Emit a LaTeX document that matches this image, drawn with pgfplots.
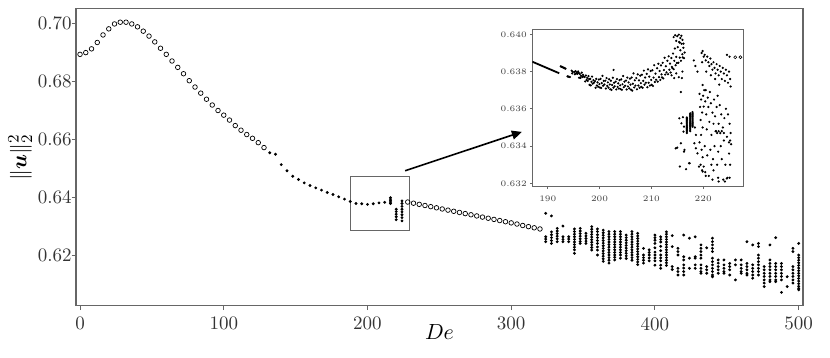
\documentclass[border=0pt]{standalone}
\usepackage{bm}
\usepackage{pgfplots}
\pgfplotsset{compat=1.18}
\usetikzlibrary{arrows.meta}
\definecolor{frame}{gray}{0.40}
\begin{document}
\begin{tikzpicture}
% ---------------- main axis ----------------
\begin{axis}[name=main,
  scale only axis, width=363.5pt, height=148.7pt,
  xmin=-2.8, xmax=503, ymin=0.6025, ymax=0.7052,
  xtick={0,100,200,300,400,500},
  ytick={0.62,0.64,0.66,0.68,0.70},
  scaled y ticks=false,
  /pgf/number format/assume math mode=true,
  yticklabel style={xshift=3.5pt, /pgf/number format/.cd, fixed, fixed zerofill, precision=2},
  axis line style={frame, line width=0.7pt},
  tick style={frame, line width=0.5pt},
  tick align=outside, tick pos=left, major tick length=2.2pt,
  ticklabel style={font=\fontsize{9.5}{10}\selectfont, text=black!80},
  xlabel={$De$}, ylabel={$\|\bm{u}\|_2^2$},
  xlabel shift=-10pt, ylabel shift=-4pt,
  label style={font=\fontsize{11}{12}\selectfont},
]
% open circles, 0 <= De <= 128
\addplot[only marks, mark=o, mark size=1.15pt, mark options={line width=0.35pt}] coordinates {
(0,0.6893)(4,0.6899)(8,0.6912)(12,0.6934)(16,0.6960)(20,0.6981)(24,0.6998)(28,0.7004)
(32,0.7004)(36,0.6998)(40,0.6988)(44,0.6973)(48,0.6956)(52,0.6936)(56,0.6914)(60,0.6893)
(64,0.6870)(68,0.6848)(72,0.6826)(76,0.6802)(80,0.6780)(84,0.6759)(88,0.6738)(92,0.6718)
(96,0.6699)(100,0.6683)(104,0.6666)(108,0.6647)(112,0.6631)(116,0.6616)(120,0.6603)
(124,0.6588)(128,0.6571)};
% open circles, 228 <= De <= 320
\addplot[only marks, mark=o, mark size=1.15pt, mark options={line width=0.35pt}] coordinates {
(228,0.6383)(232,0.6379)(236,0.6375)(240,0.6371)(244,0.6367)(248,0.6363)(252,0.6359)
(256,0.6355)(260,0.6351)(264,0.6347)(268,0.6343)(272,0.6339)(276,0.6335)(280,0.6331)
(284,0.6327)(288,0.6323)(292,0.6319)(296,0.6315)(300,0.6311)(304,0.6307)(308,0.6302)
(312,0.6298)(316,0.6294)(320,0.6290)};
% filled dots
\addplot[only marks, mark=*, mark size=0.5pt] coordinates {
(132,0.6553)(136,0.6548)(140,0.6512)(144,0.6491)(148,0.6472)(152,0.6461)(156,0.6449)
(160,0.6440)(164,0.6432)(168,0.6424)(172,0.6416)(176,0.6409)(180,0.6401)(184,0.6393)
(188,0.6385)(192,0.6378)(196,0.6377)(200,0.6375)(204,0.6377)(208,0.6380)(212,0.6382)
(216,0.6378)(216,0.6383)(216,0.6388)(216,0.6393)(216,0.6398)
(220,0.6358)(220,0.6350)(220,0.6341)(220,0.6332)(220,0.6322)
(224,0.6387)(224,0.6378)(224,0.6368)(224,0.6358)(224,0.6349)(224,0.6339)(224,0.6329)(224,0.6318)
(324,0.6344)(324,0.6263)(324,0.6255)(324,0.6246)
(328,0.6335)(328,0.6280)(328,0.6270)(328,0.6260)(328,0.6250)(328,0.6240)
(332,0.6292)(332,0.6283)(332,0.6274)(332,0.6265)(332,0.6256)(332,0.6246)
(336,0.6300)(336,0.6263)(336,0.6254)(336,0.6246)
(340,0.6263)(340,0.6255)(340,0.6246)
(344,0.6290)(344,0.6281)(344,0.6272)(344,0.6263)(344,0.6254)(344,0.6245)(344,0.6236)(344,0.6227)(344,0.6218)(344,0.6206)
(348,0.6292)(348,0.6283)(348,0.6274)(348,0.6265)(348,0.6256)(348,0.6247)(348,0.6240)
(352,0.6275)(352,0.6266)(352,0.6257)(352,0.6248)(352,0.6240)
(356,0.6298)(356,0.6289)(356,0.6280)(356,0.6271)(356,0.6262)(356,0.6253)(356,0.6244)(356,0.6235)(356,0.6226)(356,0.6217)
(360,0.6290)(360,0.6281)(360,0.6270)(360,0.6260)(360,0.6250)(360,0.6240)(360,0.6228)(360,0.6217)(360,0.6200)
(364,0.6286)(364,0.6277)(364,0.6268)(364,0.6259)(364,0.6250)(364,0.6241)(364,0.6232)(364,0.6223)(364,0.6214)(364,0.6205)(364,0.6196)(364,0.6187)(364,0.6178)
(368,0.6281)(368,0.6272)(368,0.6263)(368,0.6254)(368,0.6245)(368,0.6236)(368,0.6227)(368,0.6218)(368,0.6209)(368,0.6200)(368,0.6191)(368,0.6182)(368,0.6172)
(372,0.6281)(372,0.6272)(372,0.6263)(372,0.6254)(372,0.6245)(372,0.6236)(372,0.6227)(372,0.6218)(372,0.6209)(372,0.6200)(372,0.6192)(372,0.6183)
(376,0.6281)(376,0.6272)(376,0.6263)(376,0.6254)(376,0.6245)(376,0.6236)(376,0.6227)(376,0.6218)(376,0.6209)(376,0.6200)(376,0.6189)
(380,0.6269)(380,0.6260)(380,0.6251)(380,0.6242)(380,0.6233)(380,0.6224)(380,0.6215)(380,0.6206)(380,0.6197)(380,0.6188)
(384,0.6281)(384,0.6272)(384,0.6263)(384,0.6254)(384,0.6245)(384,0.6236)(384,0.6227)(384,0.6218)(384,0.6209)(384,0.6200)(384,0.6191)(384,0.6182)
(388,0.6275)(388,0.6266)(388,0.6257)(388,0.6248)(388,0.6239)(388,0.6230)(388,0.6221)(388,0.6212)(388,0.6203)(388,0.6194)(388,0.6185)(388,0.6176)(388,0.6167)
(392,0.6223)(392,0.6200)(392,0.6191)(392,0.6182)(392,0.6172)
(396,0.6218)(396,0.6209)(396,0.6200)(396,0.6190)(396,0.6180)
(400,0.6269)(400,0.6260)(400,0.6251)(400,0.6240)(400,0.6225)(400,0.6210)(400,0.6200)(400,0.6190)(400,0.6180)(400,0.6165)
(404,0.6263)(404,0.6254)(404,0.6245)(404,0.6230)(404,0.6215)(404,0.6200)(404,0.6190)(404,0.6180)(404,0.6165)(404,0.6154)
(408,0.6280)(408,0.6272)(408,0.6263)(408,0.6254)(408,0.6245)(408,0.6236)(408,0.6227)(408,0.6218)(408,0.6209)(408,0.6200)(408,0.6191)(408,0.6182)(408,0.6173)(408,0.6164)
(412,0.6267)(412,0.6229)(412,0.6160)(412,0.6150)
(416,0.6223)(416,0.6212)(416,0.6200)(416,0.6154)(416,0.6143)(416,0.6131)
(420,0.6269)(420,0.6194)(420,0.6183)(420,0.6166)(420,0.6155)(420,0.6143)(420,0.6131)
(424,0.6258)(424,0.6189)(424,0.6154)
(428,0.6263)(428,0.6194)(428,0.6189)(428,0.6166)(428,0.6154)
(432,0.6235)(432,0.6223)(432,0.6212)(432,0.6200)(432,0.6189)(432,0.6166)(432,0.6154)(432,0.6143)(432,0.6137)
(436,0.6225)(436,0.6160)(436,0.6149)(436,0.6137)
(440,0.6258)(440,0.6246)(440,0.6235)(440,0.6223)(440,0.6212)(440,0.6189)(440,0.6177)(440,0.6166)(440,0.6154)(440,0.6143)(440,0.6131)(440,0.6125)
(444,0.6183)(444,0.6172)(444,0.6160)(444,0.6149)(444,0.6137)
(448,0.6183)(448,0.6166)(448,0.6154)(448,0.6143)(448,0.6137)
(452,0.6171)(452,0.6160)(452,0.6149)(452,0.6131)
(456,0.6183)(456,0.6166)(456,0.6114)
(460,0.6183)(460,0.6166)(460,0.6154)(460,0.6143)(460,0.6137)
(464,0.6246)(464,0.6171)(464,0.6160)(464,0.6149)(464,0.6137)(464,0.6131)
(468,0.6235)(468,0.6166)(468,0.6154)(468,0.6143)(468,0.6131)(468,0.6120)
(472,0.6240)(472,0.6229)(472,0.6200)(472,0.6189)(472,0.6177)(472,0.6166)(472,0.6154)(472,0.6143)(472,0.6131)
(476,0.6160)(476,0.6149)(476,0.6137)(476,0.6126)(476,0.6114)(476,0.6103)(476,0.6091)
(480,0.6235)(480,0.6183)(480,0.6171)(480,0.6160)(480,0.6149)(480,0.6137)(480,0.6126)(480,0.6114)(480,0.6108)
(484,0.6260)(484,0.6171)(484,0.6160)(484,0.6149)(484,0.6137)(484,0.6126)(484,0.6114)(484,0.6108)
(488,0.6171)(488,0.6160)(488,0.6149)(488,0.6137)(488,0.6126)(488,0.6114)(488,0.6071)
(492,0.6125)(492,0.6091)
(496,0.6223)(496,0.6212)(496,0.6160)(496,0.6149)(496,0.6137)(496,0.6126)(496,0.6114)(496,0.6103)
(500,0.6240)(500,0.6200)(500,0.6191)(500,0.6182)(500,0.6173)(500,0.6164)(500,0.6155)(500,0.6146)
(500,0.6137)(500,0.6128)(500,0.6119)(500,0.6110)(500,0.6101)(500,0.6092)(500,0.6085)(500,0.6080)};
% zoom box and arrow
\draw[frame, line width=0.6pt] (axis cs:188.4,0.6285) rectangle (axis cs:229.2,0.6472);
\draw[black, line width=0.8pt, -{Triangle[length=5pt,width=4.5pt]}]
  (axis cs:226.2,0.6491) -- (axis cs:307.4,0.66252);
\end{axis}
% ---------------- inset ----------------
\begin{axis}[at={(228.15pt,59.5pt)}, anchor=south west,
  scale only axis, width=105.35pt, height=78.7pt,
  xmin=187, xmax=227.7, ymin=0.63182, ymax=0.64027,
  xtick={190,200,210,220},
  ytick={0.632,0.634,0.636,0.638,0.640},
  scaled y ticks=false,
  /pgf/number format/assume math mode=true,
  yticklabel style={xshift=2pt, /pgf/number format/.cd, fixed, fixed zerofill, precision=3},
  axis line style={frame, line width=0.45pt},
  tick style={frame, line width=0.35pt},
  tick align=outside, tick pos=left, major tick length=1.2pt,
  ticklabel style={font=\fontsize{4.2}{5}\selectfont, text=black!75},
  axis background/.style={fill=white},
]
\addplot[black, line width=0.9pt] coordinates {(187,0.63853)(192.2,0.63791)};
\addplot[only marks, mark=*, mark size=0.33pt] coordinates {
(192.5,0.63828)(192.65,0.63826)(192.8,0.63824)(192.95,0.63822)(193.1,0.63820)(193.25,0.63818)(193.4,0.63816)
(193.8,0.63774)(193.95,0.63773)(194.1,0.63772)(194.25,0.63771)
(194.6,0.63805)(194.8,0.63798)(194.7,0.63790)
(195.10,0.63798)(195.22,0.63786)(195.35,0.63802)(195.48,0.63790)(195.60,0.63796)(195.72,0.63788)(195.85,0.63801)(195.97,0.63793)
(196.05,0.63767)(196.18,0.63787)(196.30,0.63766)(196.42,0.63777)(196.55,0.63794)(196.67,0.63771)(196.80,0.63782)(196.92,0.63774)
(197.10,0.63771)(197.22,0.63747)(197.35,0.63779)(197.48,0.63755)(197.60,0.63766)(197.72,0.63750)(197.85,0.63776)(197.97,0.63760)
(198.05,0.63729)(198.18,0.63761)(198.30,0.63726)(198.42,0.63745)(198.55,0.63773)(198.67,0.63735)(198.80,0.63754)(198.92,0.63740)
(199.10,0.63749)(199.22,0.63713)(199.35,0.63761)(199.48,0.63725)(199.60,0.63742)(199.72,0.63718)(199.85,0.63757)(199.97,0.63733)
(200.05,0.63715)(200.18,0.63761)(200.30,0.63712)(200.42,0.63738)(200.55,0.63777)(200.67,0.63724)(200.80,0.63750)(200.92,0.63731)
(201.10,0.63751)(201.22,0.63709)(201.35,0.63765)(201.48,0.63723)(201.60,0.63742)(201.72,0.63714)(201.85,0.63759)(201.97,0.63731)
(202.05,0.63705)(202.18,0.63751)(202.30,0.63702)(202.42,0.63728)(202.55,0.63767)(202.67,0.63714)(202.80,0.63740)(202.92,0.63721)
(203.10,0.63746)(203.22,0.63704)(203.35,0.63760)(203.48,0.63718)(203.60,0.63737)(203.72,0.63709)(203.85,0.63754)(203.97,0.63726)
(204.05,0.63706)(204.18,0.63758)(204.30,0.63702)(204.42,0.63732)(204.55,0.63776)(204.67,0.63716)(204.80,0.63746)(204.92,0.63724)
(205.10,0.63752)(205.22,0.63704)(205.35,0.63768)(205.48,0.63720)(205.60,0.63742)(205.72,0.63710)(205.85,0.63762)(205.97,0.63730)
(206.05,0.63703)(206.18,0.63768)(206.30,0.63698)(206.42,0.63735)(206.55,0.63790)(206.67,0.63715)(206.80,0.63753)(206.92,0.63725)
(207.10,0.63765)(207.22,0.63705)(207.35,0.63785)(207.48,0.63725)(207.60,0.63753)(207.72,0.63713)(207.85,0.63778)(207.97,0.63738)
(208.05,0.63718)(208.18,0.63783)(208.30,0.63713)(208.42,0.63750)(208.55,0.63805)(208.67,0.63730)(208.80,0.63768)(208.92,0.63740)
(209.10,0.63788)(209.22,0.63716)(209.35,0.63812)(209.48,0.63740)(209.60,0.63773)(209.72,0.63725)(209.85,0.63803)(209.97,0.63755)
(210.05,0.63729)(210.18,0.63807)(210.30,0.63723)(210.42,0.63768)(210.55,0.63834)(210.67,0.63744)(210.80,0.63789)(210.92,0.63756)
(211.10,0.63818)(211.22,0.63746)(211.35,0.63842)(211.48,0.63770)(211.60,0.63803)(211.72,0.63755)(211.85,0.63833)(211.97,0.63785)
(212.05,0.63769)(212.18,0.63847)(212.30,0.63763)(212.42,0.63808)(212.55,0.63874)(212.67,0.63784)(212.80,0.63829)(212.92,0.63796)
(213.10,0.63858)(213.22,0.63786)(213.35,0.63882)(213.48,0.63810)(213.60,0.63843)(213.72,0.63795)(213.85,0.63873)(213.97,0.63825)
(214.05,0.63819)(214.18,0.63897)(214.30,0.63813)(214.42,0.63858)(214.55,0.63924)(214.67,0.63834)(214.80,0.63879)(214.92,0.63846)
(215.10,0.63931)(215.22,0.63847)(215.35,0.63959)(215.48,0.63875)(215.60,0.63914)(215.72,0.63858)(215.85,0.63949)(215.97,0.63893)
(216.05,0.63876)(216.18,0.63928)(216.30,0.63872)(216.42,0.63902)
(202.7,0.63809)
(214.3,0.63985)(214.6,0.63995)(215.0,0.63990)(215.3,0.63998)(215.6,0.63980)(215.8,0.63992)(216.0,0.63970)(214.8,0.63965)(215.5,0.63955)(216.2,0.63950)
(213.9,0.63780)(214.4,0.63765)(214.8,0.63790)(215.3,0.63770)(216.0,0.63800)(215.7,0.63690)(215.9,0.63765)
(216.85,0.63470)(216.85,0.63476)(216.85,0.63482)(216.85,0.63488)(216.85,0.63494)(216.85,0.63500)(216.85,0.63506)(216.85,0.63512)
(216.85,0.63518)(216.85,0.63524)(216.85,0.63530)(216.85,0.63536)(216.85,0.63542)(216.85,0.63548)(216.85,0.63554)
(217.5,0.63480)(217.5,0.63486)(217.5,0.63492)(217.5,0.63498)(217.5,0.63504)(217.5,0.63510)(217.5,0.63516)(217.5,0.63522)(217.5,0.63528)
(217.5,0.63534)(217.5,0.63540)(217.5,0.63546)(217.5,0.63552)(217.5,0.63558)(217.5,0.63564)(217.5,0.63570)(217.5,0.63576)
(217.95,0.63504)(217.95,0.63510)(217.95,0.63516)(217.95,0.63522)(217.95,0.63528)(217.95,0.63534)(217.95,0.63540)
(217.95,0.63546)(217.95,0.63552)(217.95,0.63558)(217.95,0.63564)(217.95,0.63570)(217.95,0.63576)(217.95,0.63582)
(215.4,0.63549)(215.8,0.63522)(216.3,0.63504)(216.2,0.63478)(215.7,0.63415)(214.7,0.63388)(216.3,0.63370)(218.3,0.63415)
(218.6,0.63388)(218.9,0.63361)(217.3,0.63308)(216.7,0.63276)(219.2,0.63290)(219.9,0.63263)(216.1,0.63555)(218.4,0.63500)
(218.6,0.63460)(215.5,0.63290)(217.4,0.63308)(215.0,0.63392)(216.4,0.63380)
(218.2,0.63860)(218.5,0.63830)(218.9,0.63800)
(219.7,0.63900)(219.9,0.63910)(220.1,0.63880)(220.3,0.63890)(220.5,0.63860)(220.8,0.63880)(221.0,0.63850)(221.2,0.63830)
(221.4,0.63870)(221.6,0.63840)(221.8,0.63810)(222.0,0.63850)(222.2,0.63820)(222.4,0.63790)(222.6,0.63840)(222.8,0.63810)
(223.0,0.63780)(223.2,0.63830)(223.4,0.63800)(223.6,0.63760)(223.8,0.63820)(224.0,0.63790)(224.2,0.63750)(224.4,0.63810)
(224.6,0.63780)(224.8,0.63740)(225.0,0.63800)(225.2,0.63760)(225.3,0.63720)(221.5,0.63780)(222.3,0.63760)(223.1,0.63730)
(220.6,0.63800)(219.8,0.63850)(224.6,0.63890)(225.1,0.63880)
(219.9,0.63728)(220.2,0.63700)(220.0,0.63670)(220.4,0.63640)(220.1,0.63612)
(219.3,0.63680)(219.6,0.63650)(219.4,0.63610)(219.8,0.63580)(219.5,0.63540)(219.9,0.63500)(219.6,0.63460)(219.3,0.63420)
(219.7,0.63380)(219.9,0.63340)(219.5,0.63300)(219.8,0.63270)(220.1,0.63290)
(220.5,0.63700)(220.9,0.63660)(221.3,0.63690)(221.0,0.63610)(220.6,0.63570)(221.5,0.63630)(221.8,0.63580)(221.2,0.63530)
(220.7,0.63490)(221.6,0.63460)(222.0,0.63520)(222.3,0.63560)(222.6,0.63610)(222.1,0.63650)(222.8,0.63670)(223.2,0.63620)
(223.5,0.63570)(223.0,0.63520)(222.5,0.63480)(223.8,0.63500)(224.1,0.63550)(224.4,0.63600)(224.8,0.63570)(225.1,0.63520)
(225.3,0.63470)(224.6,0.63450)(224.0,0.63430)(223.4,0.63400)(222.9,0.63370)(222.2,0.63400)(221.4,0.63380)(220.8,0.63350)
(221.9,0.63330)(222.7,0.63300)(223.6,0.63330)(224.3,0.63300)(225.0,0.63360)(225.2,0.63300)(220.4,0.63260)(221.1,0.63240)
(222.0,0.63270)(222.9,0.63230)(223.9,0.63220)(224.7,0.63230)(221.6,0.63300)(220.3,0.63400)
(222.4,0.63480)(222.7,0.63470)(223.0,0.63480)(223.3,0.63470)(223.6,0.63480)(224.0,0.63470)
(225.0,0.63420)(225.2,0.63430)(225.4,0.63410)
(220.5,0.63240)(221.8,0.63220)(223.0,0.63210)(224.2,0.63210)(225.1,0.63230)(224.6,0.63226)};
\addplot[only marks, mark=o, mark size=0.75pt, mark options={line width=0.3pt}] coordinates {
(226.2,0.63877)(227.2,0.63877)};
\end{axis}
\pgfresetboundingbox
\path ([shift={(-38pt,-26.15pt)}]main.south west) rectangle ([shift={(13.5pt,4.15pt)}]main.north east);
\end{tikzpicture}
\end{document}
